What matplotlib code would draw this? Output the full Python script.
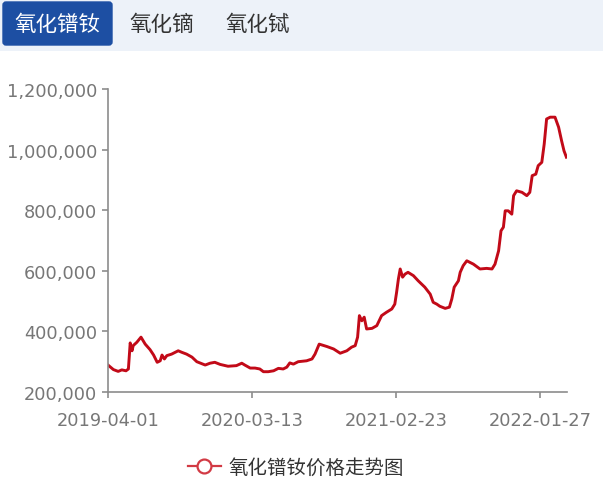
import matplotlib
matplotlib.use("Agg")
import matplotlib.pyplot as plt
from matplotlib.patches import FancyBboxPatch, Rectangle
from matplotlib.lines import Line2D
from matplotlib.ticker import FuncFormatter

plt.rcParams['font.family'] = ['Noto Sans CJK SC', 'DejaVu Sans']

tabs = ['氧化镨钕', '氧化镝', '氧化铽']
series_name = '氧化镨钕价格走势图'
tick_labels = ['2019-04-01', '2020-03-13', '2021-02-23', '2022-01-27']
tick_pos = [0, 240, 480, 720]
n_days = 765

# position along the category axis (day index) and price in yuan/ton
day = [0, 9, 17, 23, 30, 34, 37, 40, 42, 48, 55, 62, 70, 76, 82, 87, 90, 94, 98,
       106, 117, 123, 131, 140, 148, 162, 170, 178, 187, 200, 214, 223, 228, 237,
       245, 253, 259, 267, 276, 284, 292, 298, 303, 309, 317, 331, 340, 345, 352,
       365, 376, 387, 398, 406, 412, 416, 419, 423, 427, 431, 440, 448, 456, 464,
       473, 478, 481, 484, 487, 491, 495, 500, 509, 517, 528, 537, 542, 548, 553,
       562, 569, 573, 577, 584, 587, 592, 598, 609, 620, 631, 640, 645, 651, 655,
       659, 662, 667, 673, 676, 681, 690, 698, 703, 707, 713, 717, 723, 727, 731,
       737, 745, 751, 756, 760, 764]
price = [289, 274, 268, 273, 270, 276, 362, 336, 353, 364, 381, 358, 340, 322, 298,
         303, 322, 309, 320, 325, 336, 331, 325, 315, 300, 289, 295, 298, 291, 285,
         287, 295, 289, 279, 279, 276, 267, 267, 270, 278, 276, 282, 296, 292, 300,
         303, 309, 325, 358, 350, 342, 328, 336, 348, 353, 381, 452, 435, 447, 408,
         410, 419, 452, 463, 474, 490, 529, 573, 606, 579, 589, 595, 584, 567, 546,
         523, 496, 490, 483, 476, 480, 507, 546, 567, 595, 617, 633, 622, 606, 608,
         606, 622, 666, 732, 744, 798, 798, 787, 848, 864, 859, 848, 859, 914, 919,
         947, 958, 1018, 1101, 1107, 1107, 1074, 1029, 996, 975]
price = [p * 1000 for p in price]

W, H = 603, 485
fig = plt.figure(figsize=(W / 100, H / 100), dpi=100)

# tab header
hdr = fig.add_axes([0, 1 - 52 / H, 1, 52 / H])
hdr.set_xlim(0, W)
hdr.set_ylim(52, 0)
hdr.axis('off')
hdr.add_patch(Rectangle((0, 0), W, 52, color='#edf2f9', zorder=0))
hdr.add_patch(FancyBboxPatch((3, 3), 109, 43, boxstyle='round,pad=0,rounding_size=3',
                             color='#1d4fa3', zorder=1))
tab_x = [57, 162, 258]
for i, (t, x) in enumerate(zip(tabs, tab_x)):
    hdr.text(x, 25, t, ha='center', va='center', fontsize=15.5,
             color='white' if i == 0 else '#333333', zorder=2)

ax = fig.add_axes([108 / W, 1 - 393 / H, (567 - 108) / W, (393 - 90) / H])
line, = ax.plot(day, price, color='#c20a18', lw=2.1, label=series_name)
ax.set_xlim(0, n_days)
ax.set_ylim(200000, 1200000)
ax.set_yticks(range(200000, 1200001, 200000))
ax.yaxis.set_major_formatter(FuncFormatter(lambda v, p: f'{int(v):,}'))
ax.set_xticks(tick_pos)
ax.set_xticklabels(tick_labels)
for s in ['top', 'right']:
    ax.spines[s].set_visible(False)
for s in ['left', 'bottom']:
    ax.spines[s].set_color('#8c8c8c')
    ax.spines[s].set_linewidth(1.2)
ax.tick_params(axis='both', colors='#8c8c8c', length=4, width=1.2, labelsize=12.8,
               labelcolor='#777777')
for lab in ax.get_xticklabels() + ax.get_yticklabels():
    lab.set_family('DejaVu Sans')
ax.tick_params(axis='y', pad=4)
ax.tick_params(axis='x', pad=10)

handle = Line2D([], [], color='#d23a44', lw=1.6, marker='o', markersize=10,
                markerfacecolor='white', markeredgecolor='#d23a44', markeredgewidth=1.6)
fig.legend([handle], [series_name], loc='center', bbox_to_anchor=(296 / W, 1 - 468 / H),
           frameon=False, fontsize=14, handlelength=1.7, handletextpad=0.4,
           labelcolor='#333333')

fig.savefig('out.png', dpi=100)
